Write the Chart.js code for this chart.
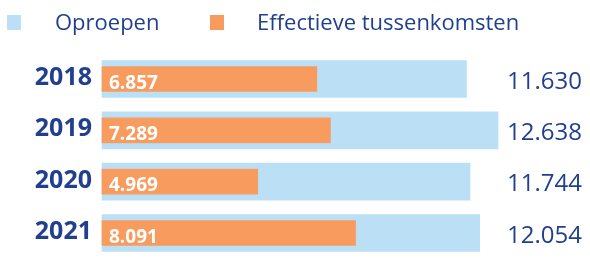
<!DOCTYPE html>
<html>
<head>
<meta charset="utf-8">
<script src="https://cdn.jsdelivr.net/npm/chart.js@4"></script>
<style>
  html, body { margin: 0; padding: 0; background: #fff; }
  #wrap { position: relative; width: 590px; height: 258px; overflow: hidden; }
  .lg-box { position: absolute; width: 14px; height: 15px; top: 15px; }
  .lg-text { position: absolute; top: 10px; font-family: "Open Sans", sans-serif; font-size: 22px; line-height: 22px; color: #213f8f; white-space: nowrap; }
</style>
</head>
<body>
<div id="wrap">
  <div class="lg-box" style="left:7px;background:#bbe0f6"></div>
  <div class="lg-text" style="left:55px">Oproepen</div>
  <div class="lg-box" style="left:210px;background:#f79c5e"></div>
  <div class="lg-text" style="left:257px">Effectieve tussenkomsten</div>
  <canvas id="chart" width="590" height="258"></canvas>
</div>
<script>
const years = ["2018", "2019", "2020", "2021"];
const oproepen = [11630, 12638, 11744, 12054];
const tussenkomsten = [6857, 7289, 4969, 8091];

const navy = "#213f8f";
const fmt = (v) => v.toLocaleString("nl-BE");

// values: white inside the orange bars, navy to the right of the blue ones
const valueLabels = {
  id: "valueLabels",
  afterDatasetsDraw(chart) {
    const ctx = chart.ctx;
    ctx.save();
    ctx.textBaseline = "alphabetic";
    ctx.textAlign = "left";
    chart.getDatasetMeta(1).data.forEach((bar, i) => {
      ctx.font = "bold 19px 'Open Sans'";
      ctx.fillStyle = "#fff";
      ctx.fillText(fmt(tussenkomsten[i]), bar.base + 7, bar.y + 9.5);
    });
    chart.getDatasetMeta(0).data.forEach((bar, i) => {
      ctx.font = "24px 'Open Sans'";
      ctx.fillStyle = navy;
      ctx.fillText(fmt(oproepen[i]), 507, bar.y + 9.5);
    });
    ctx.restore();
  },
};

new Chart(document.getElementById("chart"), {
  type: "bar",
  data: {
    labels: years,
    datasets: [
      {
        label: "Oproepen",
        data: oproepen,
        backgroundColor: "#bbe0f6",
        barThickness: 37,
        grouped: false,
        order: 2,
        clip: false,
      },
      {
        label: "Effectieve tussenkomsten",
        data: tussenkomsten,
        backgroundColor: "#f79c5e",
        barThickness: 25,
        grouped: false,
        order: 1,
        clip: false,
      },
    ],
  },
  options: {
    indexAxis: "y",
    responsive: false,
    animation: false,
    layout: { padding: { top: 79, bottom: 18, left: 0, right: 90 } },
    scales: {
      x: { display: false, min: 0, max: 12700 },
      y: {
        offset: false,
        grid: { display: false, drawTicks: false },
        border: { display: false },
        ticks: {
          color: navy,
          font: { family: "'Open Sans'", size: 25, weight: "bold" },
          padding: 10,
          labelOffset: -1,
        },
        afterFit: (scale) => { scale.width = 102; },
      },
    },
    plugins: {
      legend: { display: false },
      tooltip: { enabled: false },
    },
  },
  plugins: [valueLabels],
});
</script>
</body>
</html>
